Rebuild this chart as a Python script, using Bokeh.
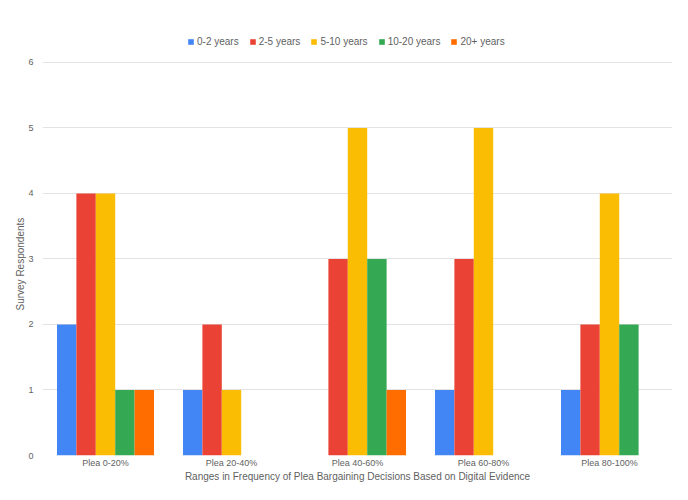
from bokeh.plotting import figure
from bokeh.models import ColumnDataSource, Range1d, FactorRange, Legend, LegendItem, Title
from bokeh.transform import dodge
from bokeh.embed import file_html
from bokeh.resources import INLINE

categories = ["Plea 0-20%", "Plea 20-40%", "Plea 40-60%", "Plea 60-80%", "Plea 80-100%"]
series_names = ["0-2 years", "2-5 years", "5-10 years", "10-20 years", "20+ years"]
s_0_2 = [2, 1, 0, 1, 1]
s_2_5 = [4, 2, 3, 3, 2]
s_5_10 = [4, 1, 5, 5, 4]
s_10_20 = [1, 0, 3, 0, 2]
s_20p = [1, 0, 1, 0, 0]
y_ticks = [0, 1, 2, 3, 4, 5, 6]
colors = ["#4285F4", "#EA4335", "#FBBC04", "#34A853", "#FF6D01"]

series = [s_0_2, s_2_5, s_5_10, s_10_20, s_20p]
data = {"cat": categories}
keys = ["a", "b", "c", "d", "e"]
for k, s in zip(keys, series):
    data[k] = s
src = ColumnDataSource(data)

FONT = "Liberation Sans"
TXT = "#5f5f5f"

# frame: left 42, right 672, top 28, bottom 455 ; 65.5 px per unit
p = figure(x_range=FactorRange(*categories, range_padding=0), y_range=Range1d(0, 6.519),
           width=672, height=484, output_backend="svg", toolbar_location=None,
           min_border_left=42, min_border_right=0, min_border_top=28, min_border_bottom=29)

bw = 0.154
items = []
for i, (k, c, name) in enumerate(zip(keys, colors, series_names)):
    r = p.vbar(x=dodge("cat", (i - 2) * bw, range=p.x_range), top=k, width=bw,
               source=src, fill_color=c, line_color=None)
    items.append(LegendItem(label=name, renderers=[r]))

legend = Legend(items=items, orientation="horizontal", location=(145, 408),
                glyph_width=7, glyph_height=7, label_standoff=3, spacing=10,
                label_text_font=FONT, label_text_font_size="10px", label_text_color=TXT,
                border_line_color=None, background_fill_alpha=0, padding=0, margin=0,
                label_height=12, label_text_baseline="middle")
p.add_layout(legend, "center")

p.outline_line_color = None
p.xgrid.grid_line_color = None
p.ygrid.grid_line_color = "#e3e3e3"
p.ygrid.grid_line_width = 1

p.yaxis.ticker = y_ticks
for ax in (p.xaxis, p.yaxis):
    ax.axis_line_color = None
    ax.major_tick_line_color = None
    ax.minor_tick_line_color = None
    ax.major_tick_out = 0
    ax.major_label_text_font = FONT
    ax.major_label_text_font_size = "9px"
    ax.major_label_text_color = TXT
    ax.axis_label_text_font = FONT
    ax.axis_label_text_font_size = "10px"
    ax.axis_label_text_color = TXT
    ax.axis_label_text_font_style = "normal"

p.yaxis.major_label_standoff = 9
p.xaxis.axis_label = "Ranges in Frequency of Plea Bargaining Decisions Based on Digital Evidence"
p.xaxis.major_label_standoff = 2
p.xaxis.axis_label_standoff = 0

ytitle = Title(text="Survey Respondents", align="left", offset=145,
               text_font=FONT, text_font_size="10px", text_color=TXT,
               text_font_style="normal", standoff=0)
p.add_layout(ytitle, "left")

open("out.html", "w").write(file_html(p, INLINE))
